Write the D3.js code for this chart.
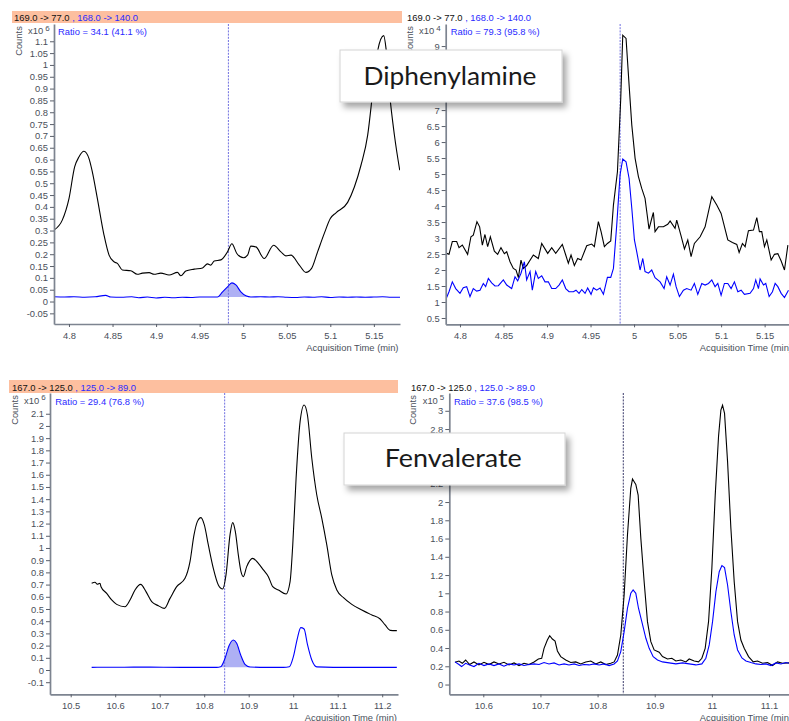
<!DOCTYPE html>
<html>
<head>
<meta charset="utf-8">
<script src="https://cdn.jsdelivr.net/npm/d3@7"></script>
<style>
  body { margin: 0; background: #fff; }
  svg { display: block; font-family: "Liberation Sans", Arial, sans-serif; }
</style>
</head>
<body>
<svg id="chart" width="789" height="721"></svg>
<script>
// transitions (quantifier / qualifier) and ratios
const dpaTransitions = ['169.0 -> 77.0', '168.0 -> 140.0']
const fenTransitions = ['167.0 -> 125.0', '125.0 -> 89.0']
const ratioLabels = ['Ratio = 34.1 (41.1 %)', 'Ratio = 79.3 (95.8 %)', 'Ratio = 29.4 (76.8 %)', 'Ratio = 37.6 (98.5 %)']
const exponents = ['6', '4', '6', '5']
const compounds = ['Diphenylamine', 'Fenvalerate']
const markerTimes = [4.983, 4.984, 10.846, 10.845]
// integrated peak windows: [start, end, baseline]
const dpaPeakWindow = [4.9705, 5.0088, 0.019]
const fenPeakWindow = [10.837, 10.903, 0.022]

// tick values
const dpaTimeTicks = [4.8, 4.85, 4.9, 4.95, 5, 5.05, 5.1, 5.15]
const fenTimeTicksA = [10.5, 10.6, 10.7, 10.8, 10.9, 11, 11.1, 11.2]
const fenTimeTicksB = [10.6, 10.7, 10.8, 10.9, 11, 11.1]
const countTicksA = [-0.05, 0, 0.05, 0.1, 0.15, 0.2, 0.25, 0.3, 0.35, 0.4, 0.45, 0.5, 0.55, 0.6,
  0.65, 0.7, 0.75, 0.8, 0.85, 0.9, 0.95, 1, 1.05, 1.1]
const countTicksB = [0.5, 1, 1.5, 2, 2.5, 3, 3.5, 4, 4.5, 5, 5.5, 6, 6.5, 7, 7.5, 8, 8.5, 9]
const countTicksC = [-0.1, 0, 0.1, 0.2, 0.3, 0.4, 0.5, 0.6, 0.7, 0.8, 0.9, 1, 1.1, 1.2, 1.3, 1.4,
  1.5, 1.6, 1.7, 1.8, 1.9, 2, 2.1]
const countTicksD = [0, 0.2, 0.4, 0.6, 0.8, 1, 1.2, 1.4, 1.6, 1.8, 2, 2.2, 2.4, 2.6, 2.8, 3]

// Diphenylamine, sample A (x10^6) [time, counts]
const dpaQuantA = [[4.7828,0.302],[4.7923,0.344],[4.800,0.435],[4.8065,0.569],[4.8114,0.611],[4.8172,0.635],
  [4.8230,0.604],[4.8268,0.548],[4.8326,0.435],[4.8402,0.281],[4.8460,0.196],[4.8517,0.168],[4.8556,0.161],
  [4.8613,0.133],[4.8709,0.130],[4.8785,0.115],[4.8843,0.120],[4.8920,0.122],[4.8977,0.115],[4.9054,0.120],
  [4.9149,0.112],[4.9245,0.123],[4.9284,0.109],[4.9341,0.129],[4.9437,0.137],[4.9533,0.142],[4.9590,0.159],
  [4.9628,0.154],[4.9667,0.171],[4.9744,0.176],[4.9820,0.210],[4.9870,0.244],[4.9927,0.203],[5.0004,0.185],
  [5.0050,0.196],[5.0088,0.234],[5.0146,0.231],[5.0241,0.182],[5.0349,0.238],[5.0433,0.210],[5.0490,0.193],
  [5.0548,0.196],[5.0644,0.154],[5.0720,0.123],[5.0785,0.140],[5.0854,0.210],[5.0931,0.288],[5.1000,0.351],
  [5.1065,0.375],[5.1199,0.419],[5.1276,0.484],[5.1352,0.576],[5.1429,0.703],[5.1487,0.885],[5.1544,1.061],
  [5.1613,1.124],[5.1640,1.068],[5.1679,0.885],[5.1736,0.703],[5.1797,0.555]]
const dpaQualA = [[4.7828,0.020],[4.7950,0.019],[4.8057,0.020],[4.8180,0.018],[4.8300,0.020],[4.8421,0.026],
  [4.8480,0.019],[4.8600,0.018],[4.8720,0.020],[4.8800,0.016],[4.8900,0.019],[4.9000,0.015],[4.9100,0.018],
  [4.9200,0.016],[4.9300,0.018],[4.9400,0.017],[4.9500,0.019],[4.9600,0.019],[4.9705,0.019],[4.9763,0.041],
  [4.9820,0.062],[4.9870,0.079],[4.9916,0.070],[4.9973,0.041],[5.0031,0.024],[5.0088,0.019],[5.0200,0.020],
  [5.0300,0.019],[5.0400,0.020],[5.0500,0.018],[5.0600,0.017],[5.0700,0.019],[5.0800,0.018],[5.0900,0.020],
  [5.1000,0.017],[5.1100,0.019],[5.1200,0.018],[5.1300,0.019],[5.1400,0.018],[5.1500,0.019],[5.1600,0.020],
  [5.1700,0.018],[5.1800,0.018]]

// Diphenylamine, sample B (x10^4)
const dpaQuantB = [[4.7847,2.52],[4.7874,2.49],[4.7912,2.89],[4.7962,2.89],[4.7989,2.70],[4.8027,2.78],
  [4.8088,2.49],[4.8126,3.04],[4.8153,3.09],[4.8195,3.51],[4.8226,3.35],[4.8257,2.78],[4.8287,3.11],
  [4.8318,2.73],[4.8349,3.04],[4.8395,2.59],[4.8433,2.49],[4.8471,2.70],[4.8510,2.51],[4.8537,2.57],
  [4.8575,2.26],[4.8613,2.05],[4.8644,2.00],[4.8671,1.76],[4.8701,2.31],[4.8728,2.05],[4.8766,2.14],
  [4.8843,2.47],[4.8900,2.36],[4.8939,2.83],[4.9008,2.52],[4.9054,2.70],[4.9100,2.52],[4.9176,2.80],
  [4.9215,2.47],[4.9245,2.21],[4.9276,2.47],[4.9314,2.14],[4.9352,2.36],[4.9391,2.31],[4.9456,2.76],
  [4.9513,2.81],[4.9544,2.73],[4.9590,3.51],[4.9621,3.20],[4.9659,2.73],[4.9694,2.83],[4.9732,2.91],
  [4.9763,4.03],[4.9809,5.07],[4.9847,7.36],[4.9870,9.34],[4.9908,9.24],[4.9943,7.78],[4.9974,6.53],
  [5.0012,5.49],[5.0050,4.92],[5.0088,4.55],[5.0126,4.24],[5.0146,3.82],[5.0172,3.28],[5.0203,3.61],
  [5.0222,3.80],[5.0241,3.20],[5.0280,3.35],[5.0337,3.35],[5.0387,3.43],[5.0414,3.53],[5.0471,3.30],
  [5.0490,3.56],[5.0540,3.07],[5.0579,2.66],[5.0617,2.94],[5.0655,2.42],[5.0693,2.83],[5.0759,3.04],
  [5.0816,3.35],[5.0893,4.29],[5.0950,4.03],[5.1000,3.77],[5.1077,2.94],[5.1130,2.86],[5.1180,2.80],
  [5.1207,2.55],[5.1245,2.83],[5.1276,2.73],[5.1314,3.23],[5.1372,3.25],[5.1410,3.64],[5.1440,3.20],
  [5.1467,3.20],[5.1498,2.73],[5.1525,2.94],[5.1575,2.31],[5.1613,2.49],[5.1652,2.51],[5.1690,2.28],
  [5.1728,2.00],[5.1767,2.78]]
const dpaQualB = [[4.7847,1.14],[4.7874,1.32],[4.7912,1.63],[4.7951,1.42],[4.8000,1.27],[4.8038,1.45],
  [4.8077,1.48],[4.8115,1.17],[4.8153,1.42],[4.8192,1.34],[4.8230,1.37],[4.8268,1.58],[4.8295,1.48],
  [4.8326,1.74],[4.8364,1.60],[4.8402,1.50],[4.8441,1.51],[4.8498,1.69],[4.8537,1.53],[4.8594,1.42],
  [4.8632,1.79],[4.8663,1.66],[4.8701,1.90],[4.8740,2.26],[4.8766,1.69],[4.8805,1.95],[4.8831,1.37],
  [4.8870,1.95],[4.8900,1.74],[4.8939,1.82],[4.8977,1.63],[4.9015,1.63],[4.9054,1.42],[4.9100,1.42],
  [4.9138,1.53],[4.9176,1.69],[4.9215,1.42],[4.9253,1.32],[4.9303,1.32],[4.9333,1.37],[4.9368,1.27],
  [4.9399,1.39],[4.9437,1.27],[4.9467,1.44],[4.9506,1.24],[4.9533,1.44],[4.9571,1.37],[4.9609,1.44],
  [4.9648,1.24],[4.9694,1.77],[4.9732,1.77],[4.9763,2.05],[4.9801,3.41],[4.9839,4.97],[4.9870,5.47],
  [4.9908,5.38],[4.9943,4.86],[4.9974,3.93],[5.0004,2.94],[5.0031,2.57],[5.0069,2.00],[5.0100,2.36],
  [5.0126,1.95],[5.0165,1.90],[5.0203,2.00],[5.0241,1.76],[5.0299,1.63],[5.0345,1.42],[5.0375,1.79],
  [5.0414,1.53],[5.0452,1.87],[5.0483,1.48],[5.0521,1.17],[5.0567,1.37],[5.0605,1.42],[5.0655,1.37],
  [5.0693,1.58],[5.0732,1.24],[5.0778,1.58],[5.0816,1.53],[5.0855,1.58],[5.0893,1.69],[5.0931,1.48],
  [5.0962,1.58],[5.1000,1.21],[5.1038,1.58],[5.1077,1.58],[5.1115,1.42],[5.1153,1.63],[5.1192,1.32],
  [5.1230,1.37],[5.1268,1.24],[5.1333,1.27],[5.1372,1.42],[5.1398,1.69],[5.1429,1.42],[5.1448,1.72],
  [5.1487,1.53],[5.1513,1.58],[5.1552,1.17],[5.1590,1.32],[5.1621,1.58],[5.1652,1.48],[5.1690,1.27],
  [5.1728,1.14],[5.1774,1.37]]

// Fenvalerate, sample A (x10^6)
const fenQuantA = [[10.5471,0.711],[10.5546,0.719],[10.5598,0.703],[10.5658,0.711],[10.5681,0.683],
  [10.5808,0.628],[10.5921,0.574],[10.6033,0.538],[10.6220,0.519],[10.6333,0.574],[10.6445,0.656],
  [10.6572,0.702],[10.6692,0.642],[10.6820,0.560],[10.6970,0.527],[10.7105,0.505],[10.7232,0.587],
  [10.7382,0.683],[10.7569,0.751],[10.7681,0.888],[10.7771,1.107],[10.7846,1.216],[10.7928,1.249],
  [10.8003,1.189],[10.8093,1.025],[10.8205,0.833],[10.8318,0.697],[10.8415,0.664],[10.8490,0.779],
  [10.8580,1.107],[10.8640,1.208],[10.8700,1.134],[10.8767,0.943],[10.8827,0.806],[10.8880,0.765],
  [10.8955,0.847],[10.9090,0.915],[10.9217,0.874],[10.9330,0.820],[10.9442,0.765],[10.9540,0.683],
  [10.9667,0.656],[10.9840,0.623],[10.9930,0.724],[10.9990,1.025],[11.0065,1.571],[11.0155,2.035],
  [11.0245,2.172],[11.0320,2.090],[11.0418,1.735],[11.0530,1.434],[11.0643,1.243],[11.0755,1.025],
  [11.0867,0.779],[11.0980,0.656],[11.1130,0.593],[11.1317,0.538],[11.1542,0.492],[11.1766,0.451],
  [11.1954,0.418],[11.2066,0.369],[11.2179,0.325],[11.2329,0.323]]
const fenQualA = [[10.5471,0.022],[10.6200,0.023],[10.6782,0.024],[10.7500,0.022],[10.8280,0.022],
  [10.8370,0.027],[10.8468,0.096],[10.8558,0.199],[10.8655,0.246],[10.8730,0.219],[10.8820,0.123],
  [10.8917,0.047],[10.9030,0.025],[10.9400,0.022],[10.9779,0.022],[10.9914,0.027],[11.0004,0.109],
  [11.0094,0.260],[11.0170,0.347],[11.0245,0.336],[11.0320,0.210],[11.0418,0.082],[11.0530,0.026],
  [11.0900,0.022],[11.1279,0.022],[11.1800,0.022],[11.2329,0.022]]

// Fenvalerate, sample B (x10^5)
const fenQuantB = [[10.5504,0.244],[10.5574,0.258],[10.5633,0.233],[10.5691,0.269],[10.5761,0.219],
  [10.5837,0.248],[10.5924,0.215],[10.6012,0.244],[10.6100,0.219],[10.6187,0.248],[10.6275,0.226],
  [10.6362,0.244],[10.6450,0.215],[10.6538,0.237],[10.6625,0.208],[10.6713,0.233],[10.6800,0.219],
  [10.6888,0.248],[10.6964,0.280],[10.7022,0.288],[10.7063,0.397],[10.7121,0.488],[10.7162,0.536],
  [10.7209,0.499],[10.7256,0.477],[10.7297,0.368],[10.7355,0.306],[10.7443,0.269],[10.7530,0.241],
  [10.7618,0.248],[10.7705,0.226],[10.7793,0.248],[10.7881,0.258],[10.7968,0.226],[10.8056,0.248],
  [10.8143,0.219],[10.8231,0.233],[10.8290,0.248],[10.8348,0.324],[10.8406,0.543],[10.8465,0.981],
  [10.8523,1.639],[10.8581,2.150],[10.8611,2.252],[10.8669,2.194],[10.8710,2.077],[10.8757,1.602],
  [10.8815,1.127],[10.8873,0.689],[10.8932,0.470],[10.8990,0.379],[10.9078,0.354],[10.9136,0.306],
  [10.9224,0.280],[10.9300,0.288],[10.9370,0.258],[10.9457,0.269],[10.9545,0.248],[10.9603,0.280],
  [10.9691,0.258],[10.9767,0.248],[10.9825,0.288],[10.9883,0.397],[10.9942,0.689],[11.0000,1.274],
  [11.0059,2.077],[11.0117,2.721],[11.0158,3.008],[11.0187,3.062],[11.0222,2.971],[11.0275,2.441],
  [11.0333,1.712],[11.0391,1.127],[11.0450,0.689],[11.0508,0.488],[11.0566,0.397],[11.0642,0.306],
  [11.0724,0.248],[11.0800,0.258],[11.0887,0.233],[11.0975,0.241],[11.1062,0.208],[11.1150,0.248],
  [11.1238,0.233],[11.1354,0.237]]
const fenQualB = [[10.5504,0.248],[10.5574,0.219],[10.5620,0.197],[10.5691,0.233],[10.5761,0.215],
  [10.5837,0.197],[10.5924,0.233],[10.6012,0.208],[10.6100,0.226],[10.6187,0.208],[10.6275,0.226],
  [10.6362,0.201],[10.6450,0.226],[10.6538,0.215],[10.6625,0.226],[10.6713,0.208],[10.6800,0.219],
  [10.6888,0.226],[10.6975,0.219],[10.7063,0.241],[10.7150,0.226],[10.7238,0.237],[10.7326,0.215],
  [10.7413,0.226],[10.7501,0.215],[10.7589,0.226],[10.7676,0.208],[10.7764,0.219],[10.7851,0.215],
  [10.7939,0.226],[10.8027,0.215],[10.8114,0.226],[10.8202,0.208],[10.8290,0.226],[10.8348,0.258],
  [10.8406,0.361],[10.8465,0.580],[10.8523,0.836],[10.8581,1.000],[10.8622,1.036],[10.8669,1.000],
  [10.8716,0.836],[10.8774,0.689],[10.8845,0.507],[10.8903,0.397],[10.8973,0.306],[10.9049,0.269],
  [10.9136,0.248],[10.9253,0.237],[10.9370,0.226],[10.9487,0.237],[10.9603,0.226],[10.9720,0.215],
  [10.9825,0.226],[10.9895,0.288],[10.9954,0.434],[11.0012,0.689],[11.0071,1.018],[11.0129,1.237],
  [11.0176,1.303],[11.0222,1.281],[11.0275,1.091],[11.0333,0.798],[11.0391,0.543],[11.0450,0.379],
  [11.0526,0.291],[11.0596,0.258],[11.0683,0.241],[11.0771,0.226],[11.0858,0.219],[11.0946,0.226],
  [11.1034,0.208],[11.1121,0.237],[11.1209,0.226],[11.1296,0.241],[11.1354,0.233]]

const svg = d3.select('#chart')
const defs = svg.append('defs')
defs.append('filter').attr('id', 'shadow')
  .attr('x', '-10%').attr('y', '-20%').attr('width', '130%').attr('height', '170%')
  .append('feDropShadow')
  .attr('dx', 4).attr('dy', 5).attr('stdDeviation', 3)
  .attr('flood-color', '#000').attr('flood-opacity', 0.35)

const fmt = d => String(+d.toFixed(3))
const FONT = 9.4
const BLUE = '#0000ff'
const BLUE_TEXT = '#2a2aff'

const panels = [
  { quant: dpaQuantA, qual: dpaQualA, labels: dpaTransitions, xTicks: dpaTimeTicks, yTicks: countTicksA,
    xDomain: [4.7828, 5.180], yDomain: [-0.095, 1.173], left: 54, right: 400, top: 24, bottom: 324,
    bar: [12, 11, 390, 12], hx: 14, hy: 20.5, cx: 21.5, cy: 41, ex: 28, ey: 34.3, rx: 58, ry: 34.5,
    tx: 398.5, ty: 351, window: dpaPeakWindow, smooth: true, marker: '#7070e0' },
  { quant: dpaQuantB, qual: dpaQualB, labels: dpaTransitions, xTicks: dpaTimeTicks, yTicks: countTicksB,
    xDomain: [4.7836, 5.178], yDomain: [0.303, 9.69], left: 445.7, right: 789, top: 24, bottom: 324.3,
    bar: null, hx: 407, hy: 20.5, cx: 412.5, cy: 41, ex: 419, ey: 34.3, rx: 450.7, ry: 34.5,
    tx: 792, ty: 351, window: null, smooth: false, marker: '#7070e0' },
  { quant: fenQuantA, qual: fenQualA, labels: fenTransitions, xTicks: fenTimeTicksA, yTicks: countTicksC,
    xDomain: [10.4535, 11.2355], yDomain: [-0.199, 2.27], left: 50, right: 398, top: 393, bottom: 694.3,
    bar: [9, 380, 389, 13], hx: 12, hy: 390.5, cx: 17.5, cy: 410, ex: 24, ey: 403.5, rx: 55.3, ry: 404.5,
    tx: 397, ty: 720.5, window: fenPeakWindow, smooth: true, marker: '#7070e0' },
  { quant: fenQuantB, qual: fenQualB, labels: fenTransitions, xTicks: fenTimeTicksB, yTicks: countTicksD,
    xDomain: [10.5405, 11.135], yDomain: [-0.107, 3.195], left: 449.3, right: 789, top: 393, bottom: 694.3,
    bar: null, hx: 411, hy: 390.5, cx: 415.5, cy: 410, ex: 422.7, ey: 403.5, rx: 454, ry: 404.5,
    tx: 792, ty: 720.5, window: null, smooth: false, marker: '#3a3a6a' },
]

panels.forEach((p, i) => {
  const x = d3.scaleLinear().domain(p.xDomain).range([p.left, p.right])
  const y = d3.scaleLinear().domain(p.yDomain).range([p.bottom, p.top])
  const g = svg.append('g')

  defs.append('clipPath').attr('id', 'clip' + i).append('rect')
    .attr('x', p.left).attr('y', p.top)
    .attr('width', p.right - p.left).attr('height', p.bottom - p.top)

  // header
  if (p.bar) {
    g.append('rect')
      .attr('x', p.bar[0]).attr('y', p.bar[1]).attr('width', p.bar[2]).attr('height', p.bar[3])
      .attr('fill', '#fdbf9f')
  }
  const head = g.append('text').attr('x', p.hx).attr('y', p.hy).attr('font-size', FONT)
  head.append('tspan').attr('fill', '#111').text(p.labels[0] + ' ')
  head.append('tspan').attr('fill', BLUE_TEXT).text(', ' + p.labels[1])

  // counts label + exponent
  g.append('text')
    .attr('transform', `translate(${p.cx},${p.cy}) rotate(-90)`)
    .attr('text-anchor', 'middle').attr('font-size', FONT).attr('fill', '#4a4f5a')
    .text('Counts')
  const ex = g.append('text').attr('x', p.ex).attr('y', p.ey).attr('font-size', FONT).attr('fill', '#4a4f5a')
  ex.append('tspan').text('x10')
  ex.append('tspan').attr('dx', 2).attr('dy', -3.5).attr('font-size', 8).text(exponents[i])

  g.append('text')
    .attr('x', p.rx).attr('y', p.ry).attr('font-size', FONT).attr('fill', BLUE_TEXT)
    .text(ratioLabels[i])

  // traces
  const plot = g.append('g').attr('clip-path', `url(#clip${i})`)
  const curve = p.smooth ? d3.curveMonotoneX : d3.curveLinear
  const line = d3.line().x(d => x(d[0])).y(d => y(d[1])).curve(curve)

  if (p.window) {
    const area = d3.area().x(d => x(d[0])).y0(y(p.window[2])).y1(d => y(d[1])).curve(curve)
    plot.append('path')
      .datum(p.qual.filter(d => d[0] >= p.window[0] && d[0] <= p.window[1]))
      .attr('d', area).attr('fill', '#aeb0f4')
  }

  plot.append('line')
    .attr('x1', x(markerTimes[i])).attr('x2', x(markerTimes[i]))
    .attr('y1', p.top).attr('y2', p.bottom)
    .attr('stroke', p.marker).attr('stroke-width', 1)
    .attr('stroke-dasharray', '2,1.2')

  plot.append('path').datum(p.quant).attr('d', line)
    .attr('fill', 'none').attr('stroke', '#000').attr('stroke-width', 1.1)
  plot.append('path').datum(p.qual).attr('d', line)
    .attr('fill', 'none').attr('stroke', BLUE).attr('stroke-width', 1.1)

  // axes
  const yAxis = g.append('g').attr('transform', `translate(${p.left},0)`)
    .call(d3.axisLeft(y).tickValues(p.yTicks).tickFormat(fmt).tickSize(4).tickSizeOuter(0).tickPadding(2))
  const xAxis = g.append('g').attr('transform', `translate(0,${p.bottom})`)
    .call(d3.axisBottom(x).tickValues(p.xTicks).tickFormat(fmt).tickSize(3).tickSizeOuter(0).tickPadding(5))
  ;[yAxis, xAxis].forEach(a => {
    a.attr('font-family', null).attr('font-size', FONT)
    a.select('.domain').attr('stroke', '#7d8490').attr('stroke-width', 1.7)
    a.selectAll('.tick line').attr('stroke', '#5a5f6a')
    a.selectAll('.tick text').attr('fill', '#4a4f5a')
  })

  g.append('text')
    .attr('x', p.tx).attr('y', p.ty).attr('text-anchor', 'end')
    .attr('font-size', FONT).attr('fill', '#4a4f5a')
    .text('Acquisition Time (min)')
})

// compound callouts
const callouts = [
  { x: 340, y: 50, w: 222, h: 52, tx: 450, ty: 85, tw: 173 },
  { x: 344, y: 433, w: 221, h: 52, tx: 453.3, ty: 467, tw: 137 },
]
callouts.forEach((c, i) => {
  const g = svg.append('g')
  g.append('rect')
    .attr('x', c.x).attr('y', c.y).attr('width', c.w).attr('height', c.h)
    .attr('fill', '#fff').attr('stroke', '#d4d4d4').attr('stroke-width', 1)
    .attr('filter', 'url(#shadow)')
  g.append('text')
    .attr('x', c.tx).attr('y', c.ty).attr('text-anchor', 'middle')
    .attr('font-family', 'Lato, "Open Sans", sans-serif').attr('font-size', 25)
    .attr('fill', '#1a1a1a')
    .attr('textLength', c.tw).attr('lengthAdjust', 'spacingAndGlyphs')
    .text(compounds[i])
})
</script>
</body>
</html>
